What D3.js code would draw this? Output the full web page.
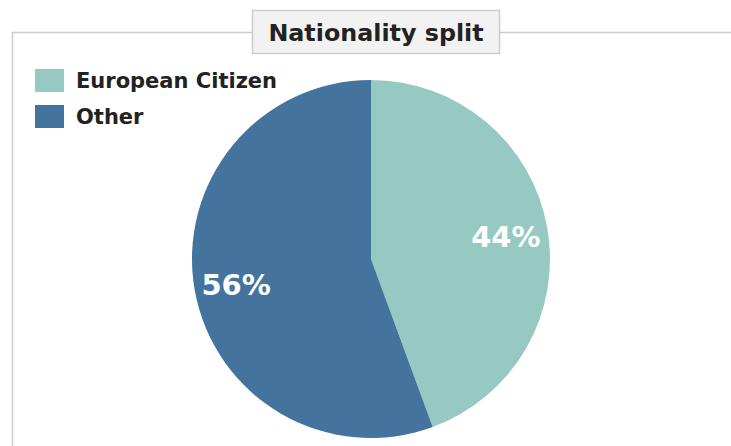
<!DOCTYPE html>
<html>
<head>
<meta charset="utf-8">
<script src="https://cdn.jsdelivr.net/npm/d3@7"></script>
<style>
	body { margin: 0; background: #fff; }
	svg { display: block; font-family: "DejaVu Sans", Verdana, sans-serif; }
</style>
</head>
<body>
<svg width="731" height="446"></svg>
<script>
var categories = ["European Citizen", "Other"];
var shares = [44.4, 55.6];
var colors = ["#95c9c1", "#44739d"];

var svg = d3.select("svg"),
	width = +svg.attr("width"),
	height = +svg.attr("height");

var cx = 371, cy = 259, radius = 179;

// frame around the chart
svg.append("path")
	.attr("d", "M12.5," + height + "V32.5H" + width)
	.attr("fill", "none")
	.attr("stroke", "#cccccc")
	.attr("stroke-width", 1.5);

// title box
var title = svg.append("g").attr("class", "title");
title.append("rect")
	.attr("x", 252.5).attr("y", 10.5)
	.attr("width", 247).attr("height", 43)
	.attr("fill", "#f2f2f2")
	.attr("stroke", "#cccccc")
	.attr("stroke-width", 1.5);
title.append("text")
	.attr("x", 376).attr("y", 41)
	.attr("text-anchor", "middle")
	.attr("font-size", 23.8)
	.attr("font-weight", "bold")
	.attr("fill", "#222")
	.text("Nationality split");

var color = d3.scaleOrdinal().domain(categories).range(colors);

var pie = d3.pie()
	.sort(null)
	.value(function(d) { return d.value; });

var data = categories.map(function(c, i) { return { name: c, value: shares[i] }; });

var path = d3.arc().outerRadius(radius).innerRadius(0);
var labelArc = d3.arc().outerRadius(137).innerRadius(137);

var g = svg.append("g").attr("transform", "translate(" + cx + "," + cy + ")");

g.selectAll(".slice")
	.data(pie(data))
	.enter().append("path")
	.attr("class", "slice")
	.attr("d", path)
	.attr("fill", function(d) { return color(d.data.name); });

g.selectAll(".lbl")
	.data(pie(data))
	.enter().append("text")
	.attr("class", "lbl")
	.attr("transform", function(d) { return "translate(" + labelArc.centroid(d) + ")"; })
	.attr("text-anchor", "middle")
	.attr("dy", "0.42em")
	.attr("font-size", 29)
	.attr("font-weight", "bold")
	.attr("fill", "#fff")
	.text(function(d) { return Math.round(d.data.value) + "%"; });

var legend = svg.selectAll(".legend")
	.data(color.domain())
	.enter().append("g")
	.attr("class", "legend")
	.attr("transform", function(d, i) { return "translate(35," + (69 + i * 36) + ")"; });

legend.append("rect")
	.attr("width", 29)
	.attr("height", 23)
	.attr("fill", color);

legend.append("text")
	.attr("x", 41)
	.attr("y", 19)
	.attr("font-size", 21)
	.attr("font-weight", "bold")
	.attr("fill", "#222")
	.text(function(d) { return d; });
</script>
</body>
</html>
